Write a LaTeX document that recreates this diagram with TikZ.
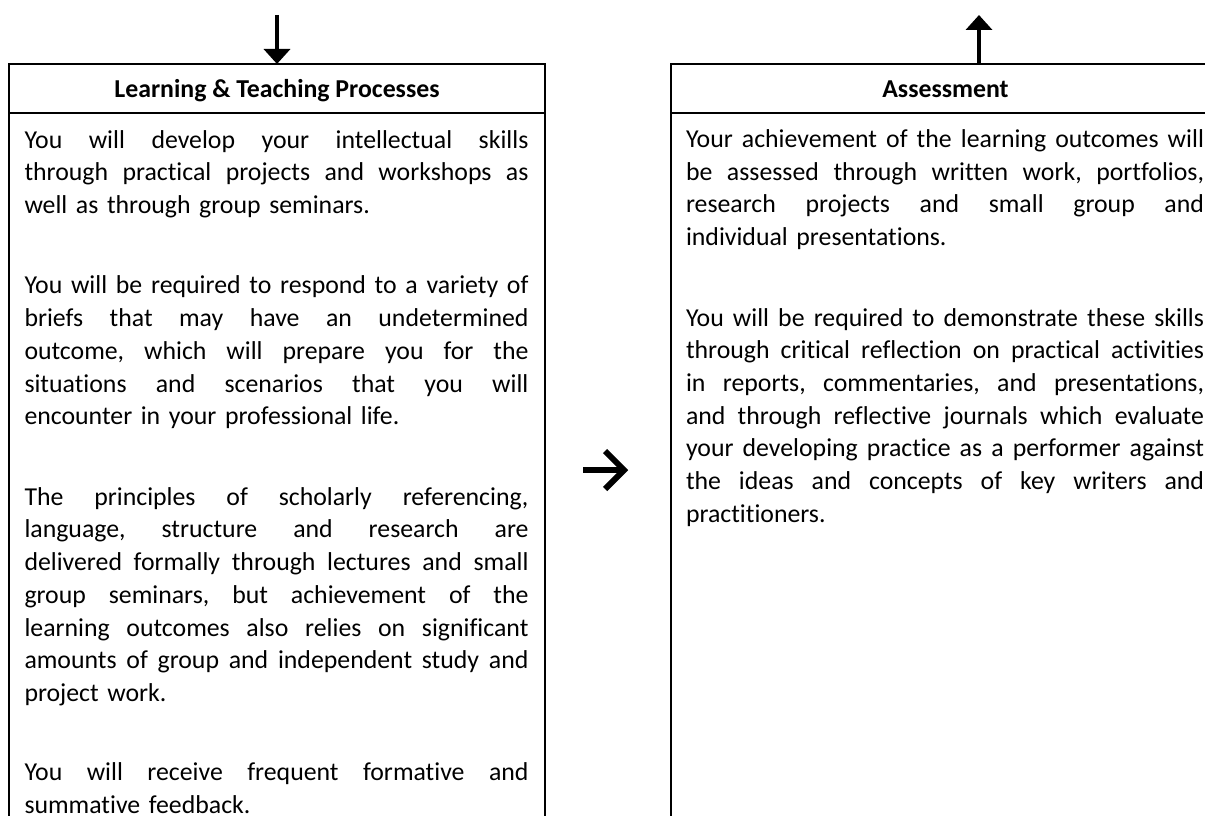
\documentclass[tikz,border=0pt]{standalone}
\usepackage{fontspec}
\setmainfont{Carlito}[Ligatures=NoCommon]
\usetikzlibrary{arrows.meta}
\newlength\lw \setlength\lw{504pt}
\newlength\rw \setlength\rw{518pt}
\newcommand\jl[2]{{\frenchspacing\spaceskip=0pt\xspaceskip=0pt\makebox[#1][s]{#2}}}
\newcommand\mybodyfont{\fontsize{25.8pt}{32.7pt}\selectfont\frenchspacing}
\newcommand\myheadfont{\bfseries\fontsize{25.8pt}{32.7pt}\selectfont}
\tikzset{
  headbox/.style={draw, line width=2.2pt, minimum height=49pt, inner sep=0pt, outer sep=0pt,
    font=\myheadfont, text height=17pt, text depth=0pt, anchor=north west},
  bodybox/.style={draw, line width=2.2pt, minimum height=760pt, inner sep=0pt, outer sep=0pt, anchor=north west},
  para/.style={anchor=base west, inner sep=0pt, outer sep=0pt, text width=#1, align=left, font=\mybodyfont},
  conn/.style={line width=4pt, -{Triangle[length=15pt,width=26pt]}},
  bigarrow/.style={line width=6pt}
}
\begin{document}
\begin{tikzpicture}[x=1pt,y=-1pt]
\useasboundingbox (0,0) rectangle (1205,816);
\fill[white] (0,0) rectangle (1205,816);
\clip (0,0) rectangle (1205,816);

% left column
\node[headbox, minimum width=536pt] (lhead) at (9,64) {Learning \& Teaching Processes};
\node[bodybox, minimum width=536pt] (lbody) at (lhead.south west) {};

% right column
\node[headbox, minimum width=549pt] (rhead) at (671,64) {Assessment};
\node[bodybox, minimum width=549pt] (rbody) at (rhead.south west) {};

% connectors
\coordinate (inTop) at (277,15);
\draw[conn] (inTop) -- (lhead.north);
\coordinate (outBase) at ([xshift=308pt]rhead.north west);
\coordinate (outTop) at (979,15);
\draw[conn] (outBase) -- (outTop);

% middle arrow
\draw[bigarrow] (583,470) -- (621,470);
\draw[bigarrow] (605,451) -- (624,470) -- (605,489);

% left text
\node[para=\lw] (lp1) at (24.5,148) {%
\jl{\lw}{You will develop your intellectual skills}\\
\jl{\lw}{through practical projects and workshops as}\\
well as through group seminars.};
\node[para=\lw] (lp2) at (24.5,293.9) {%
\jl{\lw}{You will be required to respond to a variety of}\\
\jl{\lw}{briefs that may have an undetermined}\\
\jl{\lw}{outcome, which will prepare you for the}\\
\jl{\lw}{situations and scenarios that you will}\\
encounter in your professional life.};
\node[para=\lw] (lp3) at (24.5,505.2) {%
\jl{\lw}{The principles of scholarly referencing,}\\
\jl{\lw}{language, structure and research are}\\
\jl{\lw}{delivered formally through lectures and small}\\
\jl{\lw}{group seminars, but achievement of the}\\
\jl{\lw}{learning outcomes also relies on significant}\\
\jl{\lw}{amounts of group and independent study and}\\
project work.};
\node[para=\lw] (lp4) at (24.5,780.5) {%
\jl{\lw}{You will receive frequent formative and}\\
summative feedback.};

% right text
\node[para=\rw] (rp1) at (686,147.5) {%
\jl{\rw}{Your achievement of the learning outcomes will}\\
\jl{\rw}{be assessed through written work, portfolios,}\\
\jl{\rw}{research projects and small group and}\\
individual presentations.};
\node[para=\rw] (rp2) at (686,326.1) {%
\jl{\rw}{You will be required to demonstrate these skills}\\
\jl{\rw}{through critical reflection on practical activities}\\
\jl{\rw}{in reports, commentaries, and presentations,}\\
\jl{\rw}{and through reflective journals which evaluate}\\
\jl{\rw}{your developing practice as a performer against}\\
\jl{\rw}{the ideas and concepts of key writers and}\\
practitioners.};
\end{tikzpicture}
\end{document}
